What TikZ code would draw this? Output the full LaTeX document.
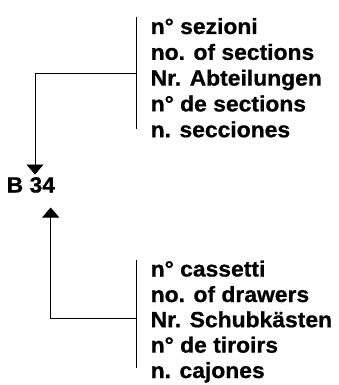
\documentclass[tikz,border=0pt]{standalone}
\usepackage{fontspec}
\setmainfont{Liberation Sans}[FakeStretch=1.04,BoldFeatures={FakeBold=0.8}]
\usetikzlibrary{arrows.meta}
\begin{document}
\begin{tikzpicture}[x=1pt,y=-1pt,
  lbl/.style={anchor=base west,inner sep=0pt,font=\fontsize{22}{25}\selectfont\bfseries},
  ln/.style={line width=0.9pt,black},
  arr/.style={ln,-{Triangle[width=17pt,length=10pt]}}]
\useasboundingbox (0,0) rectangle (338,385);
% top block
\node[lbl] (t1) at (150.5,34) {n° sezioni};
\node[lbl] (t2) at (150.5,59.8) {no. of sections};
\node[lbl] (t3) at (150.5,85.6) {Nr. Abteilungen};
\node[lbl] (t4) at (150.5,111.4) {n° de sections};
\node[lbl] (t5) at (150.5,137.2) {n. secciones};
% bottom block
\node[lbl] (b1) at (150.5,276.5) {n° cassetti};
\node[lbl] (b2) at (150.5,302) {no. of drawers};
\node[lbl] (b3) at (150.5,327.2) {Nr. Schubkästen};
\node[lbl] (b4) at (150.5,352.6) {n° de tiroirs};
\node[lbl] (b5) at (150.5,378) {n. cajones};
% label
\node[lbl] (code) at (6.5,192.5) {B 34};
% coordinates
\coordinate (ttop) at (136.3,17);
\coordinate (tbot) at (136.3,129.3);
\coordinate (tmid) at (136.3,73.3);
\coordinate (tin) at (35,174.5);
\coordinate (btop) at (136.3,260);
\coordinate (bbot) at (136.3,368);
\coordinate (bmid) at (136.3,318);
\coordinate (bout) at (50.7,207.5);
% connectors
\draw[ln] (ttop) -- (tbot);
\draw[arr] (tmid) -| (tin);
\draw[ln] (btop) -- (bbot);
\draw[arr] (bmid) -| (bout);
\end{tikzpicture}
\end{document}
